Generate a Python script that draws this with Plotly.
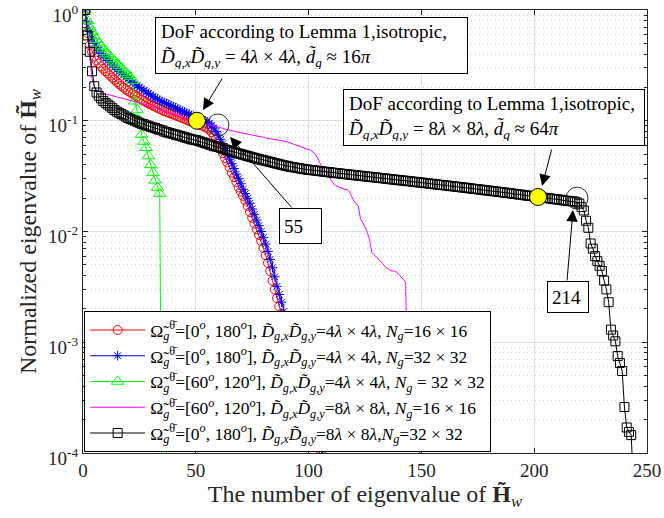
import numpy as np
import plotly.graph_objects as go

# ---------------- data ----------------
red_y = [1.0, 0.62, 0.48, 0.42, 0.38, 0.35, 0.33, 0.31, 0.295, 0.28,
         0.268, 0.256, 0.245, 0.235, 0.224, 0.215, 0.207, 0.199, 0.192, 0.186,
         0.180, 0.175, 0.170, 0.165, 0.160, 0.155, 0.151, 0.147, 0.143, 0.140,
         0.137, 0.134, 0.131, 0.128, 0.125, 0.122, 0.120, 0.118, 0.116, 0.114,
         0.112, 0.110, 0.108, 0.106, 0.104, 0.102, 0.100, 0.098, 0.097, 0.095,
         0.093, 0.092, 0.090, 0.088, 0.086, 0.083, 0.079, 0.074, 0.068, 0.062,
         0.056, 0.051, 0.046, 0.042, 0.038, 0.034, 0.031, 0.028, 0.025, 0.023,
         0.021, 0.019, 0.017, 0.015, 0.0133, 0.0118, 0.0105, 0.0093, 0.0082, 0.0071,
         0.0061, 0.0052, 0.0044, 0.0036, 0.0030, 0.0025, 0.0021, 0.0018, 0.0016, 0.0014,
         0.0012, 0.00105, 0.0009, 0.00077, 0.00065, 0.00055, 0.00047, 0.0004, 0.00034, 0.00028,
         0.00023, 0.00019, 0.00015, 0.00012, 0.000095]

blue_y = [1.0, 0.78, 0.64, 0.56, 0.50, 0.46, 0.43, 0.405, 0.385, 0.37,
          0.35, 0.335, 0.32, 0.305, 0.29, 0.28, 0.27, 0.26, 0.25, 0.24,
          0.23, 0.222, 0.214, 0.207, 0.200, 0.194, 0.188, 0.182, 0.176, 0.171,
          0.166, 0.161, 0.157, 0.153, 0.149, 0.146, 0.143, 0.140, 0.137, 0.134,
          0.131, 0.128, 0.125, 0.122, 0.120, 0.117, 0.115, 0.112, 0.110, 0.108,
          0.106, 0.104, 0.102, 0.100, 0.098, 0.095, 0.091, 0.086, 0.080, 0.074,
          0.068, 0.062, 0.056, 0.050, 0.045, 0.041, 0.037, 0.033, 0.030, 0.027,
          0.024, 0.022, 0.020, 0.018, 0.016, 0.0143, 0.0127, 0.0113, 0.0100, 0.0088,
          0.0077, 0.0066, 0.0056, 0.0047, 0.0039, 0.0032, 0.0027, 0.0023, 0.0019, 0.0016,
          0.0014, 0.0012, 0.00102, 0.00087, 0.00074, 0.00062, 0.00052, 0.00044, 0.00037, 0.00031,
          0.00026, 0.00022, 0.00018, 0.00015, 0.00012, 0.000095]

green_y = [1.0, 0.80, 0.70, 0.64, 0.58, 0.54, 0.50, 0.47, 0.45, 0.42,
           0.40, 0.38, 0.36, 0.345, 0.33, 0.315, 0.30, 0.285, 0.27, 0.26,
           0.25, 0.23, 0.15, 0.125, 0.10, 0.075, 0.065, 0.057, 0.048, 0.040,
           0.034, 0.029, 0.025, 0.022, 0.00003, 0.00006, 0.00009, 0.000088, 0.000086, 0.000084]

magenta_y = [1.0, 0.62, 0.36, 0.24, 0.205, 0.19, 0.185, 0.181, 0.178, 0.175,
             0.173, 0.171, 0.169, 0.167, 0.165, 0.163, 0.161, 0.159, 0.157, 0.155,
             0.153, 0.151, 0.149, 0.147, 0.145, 0.143, 0.141, 0.139, 0.137, 0.135,
             0.133, 0.131, 0.129, 0.127, 0.125, 0.123, 0.121, 0.119, 0.117, 0.115,
             0.113, 0.111, 0.109, 0.108, 0.106, 0.105, 0.103, 0.102, 0.100, 0.099,
             0.097, 0.096, 0.095, 0.094, 0.093, 0.092, 0.091, 0.090, 0.089, 0.088,
             0.087, 0.085, 0.084, 0.083, 0.082, 0.081, 0.080, 0.079, 0.078, 0.077,
             0.0765, 0.076, 0.0755, 0.075, 0.0745, 0.074, 0.0735, 0.073, 0.072, 0.071,
             0.070, 0.0695, 0.069, 0.068, 0.0675, 0.067, 0.0665, 0.066, 0.0655, 0.065,
             0.064, 0.063, 0.062, 0.061, 0.060, 0.059, 0.058, 0.057, 0.056, 0.055,
             0.054, 0.052, 0.050, 0.046, 0.041, 0.038, 0.036, 0.034, 0.032, 0.029,
             0.027, 0.026, 0.0255, 0.025, 0.0245, 0.024, 0.024, 0.023, 0.021, 0.019,
             0.018, 0.017, 0.013, 0.012, 0.011, 0.0098, 0.0085, 0.0065, 0.0062, 0.0060,
             0.0057, 0.0054, 0.0051, 0.0048, 0.0046, 0.0045, 0.0044, 0.0044, 0.0043, 0.0041,
             0.0039, 0.0037, 0.0035, 0.0003, 0.00022, 0.00018, 0.00015, 0.00013, 0.00011, 0.00009]

black_y = [1.0, 0.59, 0.42, 0.28, 0.205, 0.18, 0.168, 0.159, 0.151, 0.145,
           0.140, 0.135, 0.130, 0.125, 0.121, 0.118, 0.115, 0.112, 0.109, 0.106,
           0.104, 0.102, 0.100, 0.098, 0.096, 0.094, 0.093, 0.091, 0.090, 0.088,
           0.087, 0.086, 0.084, 0.083, 0.082, 0.080, 0.079, 0.078, 0.077, 0.076,
           0.075, 0.074, 0.073, 0.072, 0.071, 0.070, 0.069, 0.068, 0.0675, 0.067,
           0.066, 0.065, 0.064, 0.063, 0.062, 0.061, 0.060, 0.059, 0.0585, 0.058,
           0.057, 0.056, 0.055, 0.0542, 0.0535, 0.0528, 0.052, 0.0512, 0.0505, 0.050,
           0.0493, 0.0487, 0.048, 0.0474, 0.0468, 0.0462, 0.0456, 0.045, 0.0445, 0.044,
           0.0435, 0.043, 0.0425, 0.042, 0.0415, 0.041, 0.0405, 0.040, 0.0396, 0.0392,
           0.0388, 0.0384, 0.0381, 0.0378, 0.0375, 0.0372, 0.0369, 0.0366, 0.0363, 0.0361,
           0.0359, 0.0357, 0.0355, 0.0353, 0.0351, 0.0349, 0.0347, 0.0345, 0.0343, 0.0341,
           0.0339, 0.0337, 0.0336, 0.0334, 0.0332, 0.0330, 0.0329, 0.0327, 0.0325, 0.0323,
           0.0322, 0.0320, 0.0318, 0.0317, 0.0315, 0.0313, 0.0312, 0.0310, 0.0309, 0.0307,
           0.0305, 0.0304, 0.0302, 0.0301, 0.0299, 0.0297, 0.0296, 0.0294, 0.0293, 0.0291,
           0.0290, 0.0288, 0.0287, 0.0285, 0.0284, 0.0282, 0.0281, 0.0279, 0.0278, 0.0276,
           0.0275, 0.0273, 0.0272, 0.0270, 0.0269, 0.0267, 0.0266, 0.0264, 0.0263, 0.0262,
           0.0260, 0.0259, 0.0257, 0.0256, 0.0255, 0.0253, 0.0252, 0.0250, 0.0249, 0.0248,
           0.0246, 0.0245, 0.0243, 0.0242, 0.0241, 0.0239, 0.0238, 0.0236, 0.0235, 0.0234,
           0.0232, 0.0231, 0.0230, 0.0228, 0.0227, 0.0226, 0.0224, 0.0223, 0.0222, 0.0220,
           0.0219, 0.0218, 0.0216, 0.0215, 0.0214, 0.0212, 0.0211, 0.0210, 0.0209, 0.0207,
           0.0206, 0.0205, 0.0204, 0.0202, 0.0201, 0.0200, 0.0199, 0.0197, 0.0196, 0.0195,
           0.0194, 0.0193, 0.0191, 0.0190, 0.0189, 0.0188, 0.0187, 0.0186,
           0.0183, 0.0178, 0.0166, 0.0155, 0.0125, 0.0108, 0.0078, 0.0070, 0.0060, 0.0054,
           0.0049, 0.0044, 0.0036, 0.0030, 0.0023, 0.0013, 0.00115, 0.00102, 0.00075, 0.00065,
           0.00055, 0.00026, 0.00017, 0.000155, 0.000145, 0.00005]

OM = "Ω̃<sub><i>g</i></sub><sup>θ̄</sup>"
DD = "<i>D̃</i><sub><i>g,x</i></sub><i>D̃</i><sub><i>g,y</i></sub>"
NG = "<i>N</i><sub><i>g</i></sub>"
series_names = [
    OM + "=[0<sup><i>o</i></sup>, 180<sup><i>o</i></sup>], " + DD + "=4<i>λ</i> × 4<i>λ</i>, " + NG + "=16 × 16",
    OM + "=[0<sup><i>o</i></sup>, 180<sup><i>o</i></sup>], " + DD + "=4<i>λ</i> × 4<i>λ</i>, " + NG + "=32 × 32",
    OM + "=[60<sup><i>o</i></sup>, 120<sup><i>o</i></sup>], " + DD + "=4<i>λ</i> × 4<i>λ</i>, " + NG + " = 32 × 32",
    OM + "=[60<sup><i>o</i></sup>, 120<sup><i>o</i></sup>], " + DD + "=8<i>λ</i> × 8<i>λ</i>, " + NG + "=16 × 16",
    OM + "=[0<sup><i>o</i></sup>, 180<sup><i>o</i></sup>], " + DD + "=8<i>λ</i> × 8<i>λ</i>," + NG + "=32 × 32",
]

x_ticks = [0, 50, 100, 150, 200, 250]
y_ticks = [1e-4, 1e-3, 1e-2, 1e-1, 1]
y_ticktext = ["10<sup>-4</sup>", "10<sup>-3</sup>", "10<sup>-2</sup>", "10<sup>-1</sup>", "10<sup>0</sup>"]
y_minor = [m * 10.0 ** k for k in range(-4, 0) for m in range(2, 10)]

# DoF markers (yellow) and threshold circles
dof_x = [50.5, 201.7]
dof_y = [0.1, 0.0205]
thr_x = [59.8, 219.0]
thr_y = [0.0916, 0.0200]

FONT = "Liberation Serif"

fig = go.Figure()

def idx(v):
    return list(range(1, len(v) + 1))

fig.add_trace(go.Scatter(x=idx(red_y), y=red_y, name=series_names[0], mode="lines+markers",
                         line=dict(color="#ff0000", width=1),
                         marker=dict(symbol="circle-open", size=9, color="#ff0000", line=dict(width=1))))
fig.add_trace(go.Scatter(x=idx(blue_y), y=blue_y, name=series_names[1], mode="lines+markers",
                         line=dict(color="#0000ff", width=1),
                         marker=dict(symbol="asterisk-open", size=8, color="#0000ff", line=dict(width=1, color="#0000ff"))))
fig.add_trace(go.Scatter(x=idx(green_y), y=green_y, name=series_names[2], mode="lines+markers",
                         line=dict(color="#00ff00", width=1),
                         marker=dict(symbol="triangle-up-open", size=11, color="#00ff00", line=dict(width=1))))
fig.add_trace(go.Scatter(x=idx(magenta_y), y=magenta_y, name=series_names[3], mode="lines",
                         line=dict(color="#ff00ff", width=1)))
fig.add_trace(go.Scatter(x=idx(black_y), y=black_y, name=series_names[4], mode="lines+markers",
                         line=dict(color="#000000", width=1),
                         marker=dict(symbol="square-open", size=9, color="#000000", line=dict(width=1))))

# yellow DoF markers and open threshold circles
fig.add_trace(go.Scatter(x=dof_x, y=dof_y, mode="markers", showlegend=False, hoverinfo="skip",
                         marker=dict(symbol="circle", size=17, color="#ffff00",
                                     line=dict(color="black", width=1))))
fig.add_trace(go.Scatter(x=thr_x, y=thr_y, mode="markers", showlegend=False, hoverinfo="skip",
                         marker=dict(symbol="circle-open", size=22, color="#333333",
                                     line=dict(color="#333333", width=1))))

# text boxes
boxes = [
    (101.3, 10 ** -0.32, "DoF according to Lemma 1,isotropic,<br><i>D̃</i><sub><i>g,x</i></sub><i>D̃</i><sub><i>g,y</i></sub> = 4<i>λ</i> × 4<i>λ</i>, <i>d̃</i><sub><i>g</i></sub> ≈ 16<i>π</i>", 303, 47),
    (182.2, 10 ** -0.971, "DoF according to Lemma 1,isotropic,<br><i>D̃</i><sub><i>g,x</i></sub><i>D̃</i><sub><i>g,y</i></sub> = 8<i>λ</i> × 8<i>λ</i>, <i>d̃</i><sub><i>g</i></sub> ≈ 64<i>π</i>", 292, 47),
    (96.4, 10 ** -1.95, "55", 33, 26),
    (215.0, 10 ** -2.59, "214", 32, 22),
]
for bx, by, txt, w, h in boxes:
    fig.add_annotation(x=bx, y=np.log10(by), xref="x", yref="y", text=txt, showarrow=False,
                       align="left", width=w, height=h, borderpad=4,
                       bordercolor="black", borderwidth=1, bgcolor="white",
                       font=dict(family=FONT, size=19, color="black"))

# arrows: (head x, head y, tail x, tail y)
arrows = [
    (53.2, 10 ** -0.903, 62.1, 10 ** -0.605),
    (203.5, 10 ** -1.589, 207.9, 10 ** -1.246),
    (65.2, 10 ** -1.147, 93.1, 10 ** -1.797),
    (217.2, 10 ** -1.806, 214.5, 10 ** -2.456),
]
for hx, hy, tx, ty in arrows:
    fig.add_annotation(x=hx, y=np.log10(hy), ax=tx, ay=np.log10(ty), xref="x", yref="y",
                       axref="x", ayref="y", text="", showarrow=True, arrowhead=2,
                       arrowsize=2.3, arrowwidth=1, arrowcolor="black", standoff=0, startstandoff=0)

axis_common = dict(showline=True, linecolor="#262626", linewidth=1, mirror="allticks",
                   ticks="inside", ticklen=5, tickcolor="#262626",
                   tickfont=dict(family=FONT, size=19, color="#262626"),
                   showgrid=True, gridcolor="#dfdfdf", gridwidth=1, zeroline=False,
                   automargin=False, ticklabeloverflow="allow")

fig.update_xaxes(range=[0, 250], tickvals=x_ticks, **axis_common,
                 title=dict(text="The number of eigenvalue of <b>H̃</b><sub><i>w</i></sub>",
                            font=dict(family=FONT, size=24, color="#262626"), standoff=4))
fig.update_yaxes(type="log", range=[-4, 0.0002], tickvals=y_ticks, ticktext=y_ticktext, **axis_common,
                 ticklabelshift=5,
                 minor=dict(tickvals=y_minor, showgrid=True, gridcolor="#cfcfcf", griddash="1px,3px",
                            ticks="inside", ticklen=3, tickcolor="#262626"),
                 title=dict(text="Normalized eigenvalue of <b>H̃</b><sub><i>w</i></sub>",
                            font=dict(family=FONT, size=24, color="#262626"), standoff=4))

fig.update_layout(
    width=664, height=518,
    margin=dict(l=83, r=17, t=10, b=65),
    paper_bgcolor="white", plot_bgcolor="white",
    font=dict(family=FONT, color="black"),
    legend=dict(x=0.002, y=0.002, xanchor="left", yanchor="bottom",
                bordercolor="black", borderwidth=1, bgcolor="white",
                font=dict(family=FONT, size=17.5, color="black"),
                itemwidth=55, tracegroupgap=0),
)

fig.write_html("out.html")
